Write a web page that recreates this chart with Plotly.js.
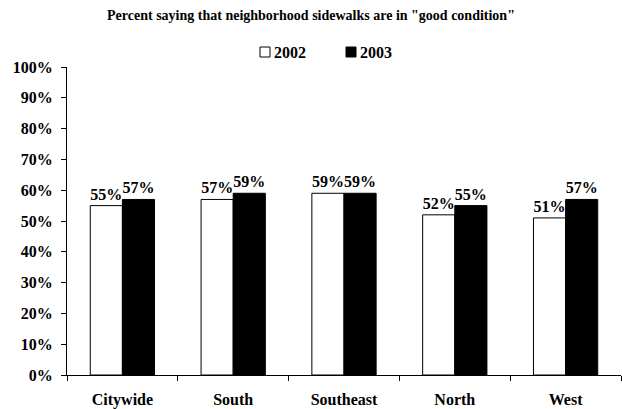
<!DOCTYPE html>
<html><head><meta charset="utf-8">
<script src="https://cdn.plot.ly/plotly-3.0.1.min.js"></script>
<style>html,body{margin:0;padding:0;background:#fff}#c{width:622px;height:409px}</style>
</head><body><div id="c"></div>
<script>
const categories = ["Citywide", "South", "Southeast", "North", "West"];
const values2002 = [0.55, 0.57, 0.59, 0.52, 0.51];
const values2003 = [0.57, 0.59, 0.59, 0.55, 0.57];
const seriesNames = ["2002", "2003"];
const seriesColors = ["#ffffff", "#000000"];
const yTickVals = [0,0.1,0.2,0.3,0.4,0.5,0.6,0.7,0.8,0.9,1.0];

const F = "Liberation Serif";
const M = {l:67, r:1, t:67, b:34};
const W = 622, H = 409;
const pw = W - M.l - M.r, ph = H - M.t - M.b;
const px2x = px => (px - M.l) / pw;
const py2y = py => (H - M.b - py) / ph;
const pct = v => Math.round(v*100) + "%";
const b = s => "<b>" + s + "</b>";

const traces = [values2002, values2003].map((vals, i) => ({
  type:"bar", name:seriesNames[i], x:categories, y:vals, text:vals.map(v => b(pct(v))),
  textposition:"outside", cliponaxis:false, constraintext:"none",
  textfont:{family:F, size:16, color:"#000"},
  marker:{color:seriesColors[i], line:{color:"#000", width:1}},
  showlegend:false
}));

// custom legend (square + label), positioned like the reference
const legendSquares = [260, 346];
const shapes = legendSquares.map((sx, i) => ({
  type:"rect", xref:"paper", yref:"paper",
  x0:px2x(sx), x1:px2x(sx+10), y0:py2y(57), y1:py2y(47),
  fillcolor:seriesColors[i], line:{color:"#000", width:1}
}));
const annotations = legendSquares.map((sx, i) => ({
  xref:"paper", yref:"paper", x:px2x(sx+12), y:py2y(52), xanchor:"left", yanchor:"middle",
  showarrow:false, text:b(seriesNames[i]), font:{family:F, size:16, color:"#000"}
}));

const layout = {
  width:W, height:H, margin:M,
  paper_bgcolor:"#fff", plot_bgcolor:"#fff",
  font:{family:F, color:"#000"},
  title:{text:b('Percent saying that neighborhood sidewalks are in "good condition"'),
         font:{family:F, size:14, color:"#000"}, x:0.5, xanchor:"center",
         y:1 - 15/H, yanchor:"middle"},
  barmode:"group", bargap:0.42, bargroupgap:0,
  showlegend:false, shapes:shapes, annotations:annotations,
  xaxis:{type:"category", showline:true, linecolor:"#000", linewidth:1,
         tickvals:categories, ticktext:categories.map(b),
         ticks:"outside", tickson:"boundaries", ticklen:5, tickcolor:"#000", ticklabelstandoff:10,
         tickfont:{family:F, size:16, color:"#000"}, showgrid:false},
  yaxis:{range:[0,1], tickvals:yTickVals, ticktext:yTickVals.map(v => b(pct(v))),
         showline:true, linecolor:"#000", linewidth:1,
         ticks:"outside", ticklen:5, tickcolor:"#000", showgrid:false, zeroline:false, ticklabelstandoff:5,
         tickfont:{family:F, size:16, color:"#000"}}
};
Plotly.newPlot("c", traces, layout, {displayModeBar:false, staticPlot:true});
</script></body></html>
